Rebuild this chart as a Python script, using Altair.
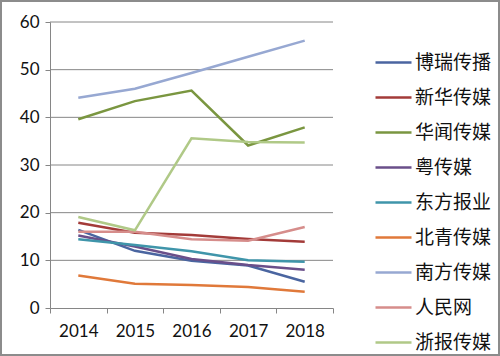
import altair as alt
import pandas as pd

years = ["2014", "2015", "2016", "2017", "2018"]
series_names = ["博瑞传播", "新华传媒", "华闻传媒", "粤传媒", "东方报业", "北青传媒", "南方传媒", "人民网", "浙报传媒"]
colors = ["#4A65A0", "#A33B39", "#7A9640", "#6A4F8A", "#3F95AA", "#E0793A", "#97A8D2", "#D68D8B", "#B0C987"]

bori = [16.4, 12.0, 9.9, 8.9, 5.5]
xinhua = [17.9, 15.8, 15.3, 14.5, 13.9]
huawen = [39.6, 43.4, 45.6, 34.1, 37.9]
yue = [15.2, 12.9, 10.3, 9.0, 8.0]
dongfang = [14.4, 13.2, 11.9, 10.0, 9.7]
beiqing = [6.8, 5.1, 4.8, 4.4, 3.4]
nanfang = [44.1, 46.0, 49.3, 52.7, 56.1]
renmin = [16.0, 16.0, 14.4, 14.1, 17.0]
zhebao = [19.1, 16.3, 35.6, 34.8, 34.7]

y_ticks = [0, 10, 20, 30, 40, 50, 60]

all_values = [bori, xinhua, huawen, yue, dongfang, beiqing, nanfang, renmin, zhebao]
rows = []
for name, vals in zip(series_names, all_values):
    for yr, v in zip(years, vals):
        rows.append({"year": yr, "value": v, "series": name})
df = pd.DataFrame(rows)
grid_df = pd.DataFrame({"v": y_ticks[1:]})
one = pd.DataFrame({"k": [0]})

FONT = "Lato"
CJK = "Noto Sans CJK SC"

x_enc = alt.X("year:N", sort=years,
              scale=alt.Scale(type="band", paddingInner=0, paddingOuter=0),
              axis=alt.Axis(title=None, labelAngle=0, tickBand="extent", domainColor="#868686",
                            tickColor="#868686", tickSize=5, labelFontSize=17, labelFont=FONT,
                            labelColor="#111111", labelPadding=10, grid=False))
y_scale = alt.Scale(domain=[0, 60], nice=False)

grid = alt.Chart(grid_df).mark_rule(color="#868686", strokeWidth=1).encode(
    y=alt.Y("v:Q", scale=y_scale)
)

lines = alt.Chart(df).mark_line(strokeWidth=2.5).encode(
    x=x_enc,
    y=alt.Y("value:Q", scale=y_scale,
            axis=alt.Axis(title=None, values=y_ticks, grid=False, domainColor="#868686",
                          tickColor="#868686", tickSize=5, labelFontSize=17, labelFont=FONT,
                          labelColor="#111111", labelPadding=6)),
    color=alt.Color("series:N", sort=series_names,
                    scale=alt.Scale(domain=series_names, range=colors),
                    legend=alt.Legend(title=None, orient="none", legendX=324, legendY=21,
                                      symbolType="stroke", symbolSize=1296, symbolStrokeWidth=2.5,
                                      labelFont=CJK, labelFontSize=19, labelColor="#111111",
                                      labelOffset=2, rowPadding=5)),
)

fc = "#8c8c8c"
def frame_rule(**enc):
    return alt.Chart(one).mark_rule(color=fc, strokeWidth=2).encode(**enc)

frame = [
    frame_rule(x=alt.value(-49), y=alt.value(-22), y2=alt.value(334)),
    frame_rule(x=alt.value(449), y=alt.value(-22), y2=alt.value(334)),
    frame_rule(y=alt.value(-21), x=alt.value(-50), x2=alt.value(450)),
    frame_rule(y=alt.value(333), x=alt.value(-50), x2=alt.value(450)),
]

chart = alt.layer(grid, lines, *frame).properties(
    width=283, height=286,
    padding={"left": 50, "top": 22, "right": 167, "bottom": 48},
    autosize=alt.AutoSizeParams(type="none"),
    background="white",
).configure_view(stroke=None)

chart.save("out.html", embed_options={"renderer": "svg", "actions": False})
